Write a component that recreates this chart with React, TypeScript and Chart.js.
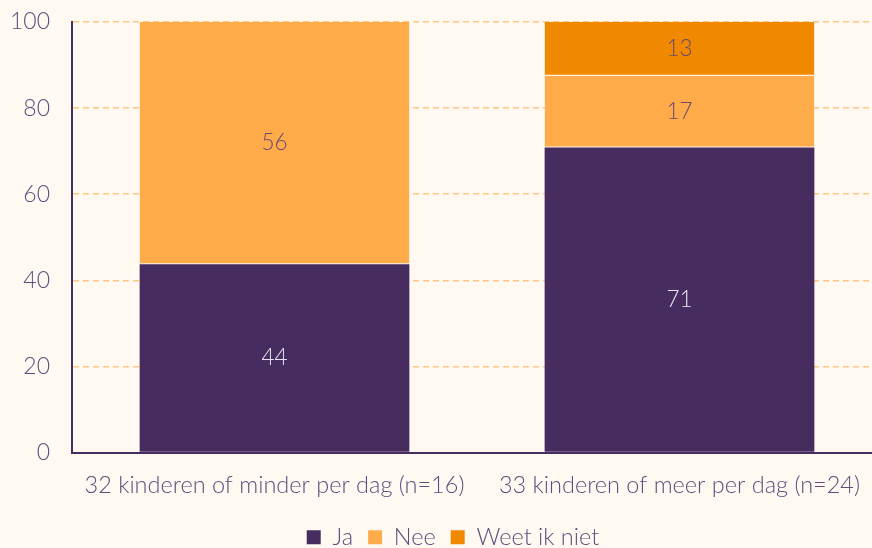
import React, { useEffect, useRef } from "react";
import { Chart, registerables } from "chart.js";

Chart.register(...registerables);

const categories = ["32 kinderen of minder per dag (n=16)", "33 kinderen of meer per dag (n=24)"];
const seriesNames = ["Ja", "Nee", "Weet ik niet"];
const ja = [43.75, 70.83];
const nee = [56.25, 16.67];
const weetIkNiet = [0, 12.5];
const yTicks = [0, 20, 40, 60, 80, 100];

const colors = ["#472d5f", "#ffab4a", "#f08800"];
const labelColors = ["#e8e2ee", "#6b4a6e", "#6b4a6e"];
const BG = "#fff9f2";
const TEXT = "#5e4d7c";
const FONT = "Lato, 'Open Sans', sans-serif";

const dataLabelPlugin = {
  id: "dataLabels",
  afterDatasetsDraw(chart: any) {
    const ctx = chart.ctx;
    chart.data.datasets.forEach((ds: any, i: number) => {
      const meta = chart.getDatasetMeta(i);
      meta.data.forEach((bar: any, j: number) => {
        const v = ds.data[j];
        if (!v) return;
        const { x, y, base } = bar.getProps(["x", "y", "base"], true);
        ctx.save();
        ctx.fillStyle = labelColors[i];
        ctx.font = `300 22.5px ${FONT}`;
        ctx.textAlign = "center";
        ctx.textBaseline = "middle";
        ctx.fillText(String(Math.round(v)), x, (y + base) / 2);
        ctx.restore();
      });
    });
  },
};

const bgPlugin = {
  id: "bg",
  beforeDraw(chart: any) {
    const ctx = chart.ctx;
    ctx.save();
    ctx.fillStyle = BG;
    ctx.fillRect(0, 0, chart.width, chart.height);
    ctx.restore();
  },
};

const legendShiftPlugin = {
  id: "legendShift",
  afterLayout(chart: any) {
    if (chart.legend) {
      chart.legend.left += 12;
      chart.legend.right += 12;
    }
  },
};

export default function App() {
  const ref = useRef<HTMLCanvasElement>(null);
  useEffect(() => {
    document.body.style.margin = "0";
    document.body.style.background = BG;
    const values = [ja, nee, weetIkNiet];
    const chart = new Chart(ref.current!, {
      type: "bar",
      data: {
        labels: categories,
        datasets: seriesNames.map((name, i) => ({
          label: name,
          data: values[i],
          backgroundColor: colors[i],
          borderColor: "rgba(255,240,230,0.6)",
          borderWidth: (c: any) =>
            i === 0 || !c.raw ? 0 : { top: 0, bottom: 1, left: 0, right: 0 },
          borderSkipped: false,
          categoryPercentage: 0.74,
          barPercentage: 0.9,
        })),
      },
      options: {
        responsive: false,
        animation: false,
        layout: { padding: { top: 22, right: 0, left: 0, bottom: -11 } },
        scales: {
          x: {
            stacked: true,
            grid: { display: false, drawTicks: false },
            border: { color: "#472d5f", width: 2 },
            afterFit: (axis: any) => {
              axis.height = 58;
              axis.paddingLeft = 0;
              axis.paddingRight = 0;
            },
            ticks: { color: TEXT, font: { family: FONT, size: 23.5, weight: "300" as any }, padding: 19, maxRotation: 0, autoSkip: false },
          },
          y: {
            stacked: true,
            min: 0,
            max: 100,
            afterBuildTicks: (axis: any) => {
              axis.ticks = yTicks.map((v) => ({ value: v }));
            },
            afterFit: (axis: any) => {
              axis.width = 72;
              axis.paddingTop = 0;
              axis.paddingBottom = 0;
            },
            grid: { color: "#ffc684", lineWidth: 1.5, drawTicks: false },
            border: { color: "#472d5f", width: 2, dash: [6, 4] as any, display: true },
            ticks: { color: TEXT, font: { family: FONT, size: 23, weight: "300" as any }, padding: 22 },
          },
        },
        plugins: {
          legend: {
            position: "bottom",
            labels: {
              color: TEXT,
              font: { family: FONT, size: 23.5, weight: "300" as any },
              boxWidth: 14,
              boxHeight: 14,
              padding: 15,
            },
          },
          tooltip: { enabled: false },
        },
      },
      plugins: [bgPlugin, dataLabelPlugin, legendShiftPlugin],
    });
    return () => chart.destroy();
  }, []);
  return (
    <div style={{ width: 872, height: 548, overflow: "hidden", background: BG }}>
      <canvas ref={ref} width={882} height={548} style={{ display: "block" }} />
    </div>
  );
}
